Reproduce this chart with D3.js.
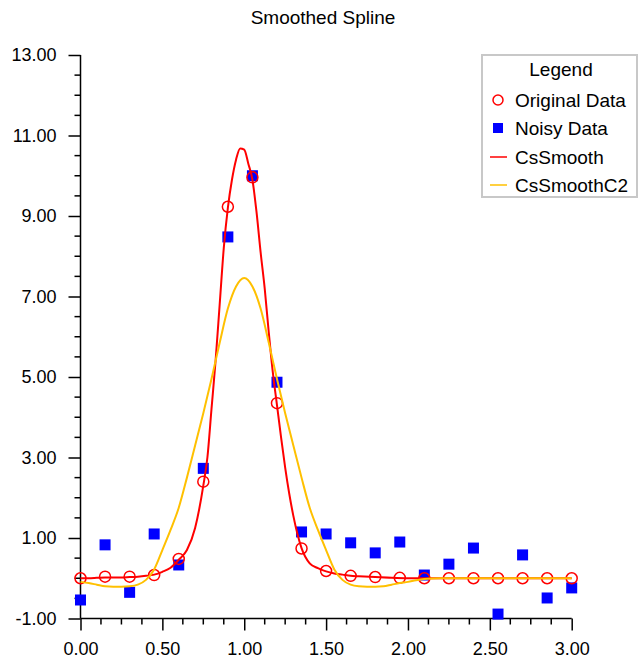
<!DOCTYPE html>
<html>
<head>
<meta charset="utf-8">
<script src="https://cdn.jsdelivr.net/npm/d3@7"></script>
<style>
body { margin: 0; background: #fff; }
text { font-family: "Liberation Sans", Arial, sans-serif; }
</style>
</head>
<body>
<svg id="chart" width="643" height="667"></svg>
<script>
const dataX = [0, 0.15, 0.30, 0.45, 0.60, 0.75, 0.90, 1.05, 1.20, 1.35, 1.50, 1.65, 1.80, 1.95, 2.10, 2.25, 2.40, 2.55, 2.70, 2.85, 3.00];
const originalY = [0.00, 0.04, 0.04, 0.08, 0.48, 2.40, 9.23, 9.96, 4.35, 0.74, 0.18, 0.06, 0.03, 0.01, 0.00, 0.00, 0.00, 0.00, 0.00, 0.00, 0.00];
const noisyY = [-0.54, 0.83, -0.35, 1.10, 0.33, 2.73, 8.48, 10.00, 4.87, 1.15, 1.10, 0.88, 0.63, 0.90, 0.08, 0.35, 0.75, -0.89, 0.58, -0.49, -0.24];

const smoothX = [0, 0.05, 0.1, 0.15, 0.2, 0.25, 0.3, 0.35, 0.4, 0.45, 0.5, 0.55, 0.6, 0.65, 0.7, 0.75, 0.775, 0.8, 0.825, 0.85, 0.875, 0.9, 0.925, 0.95, 0.975, 1.0, 1.025, 1.05, 1.075, 1.1, 1.125, 1.15, 1.175, 1.2, 1.225, 1.25, 1.275, 1.3, 1.325, 1.35, 1.4, 1.45, 1.5, 1.55, 1.6, 1.65, 1.7, 1.8, 1.9, 2.0, 2.1, 2.2, 2.4, 2.6, 2.8, 3.0];
const csSmoothY = [0.00, 0.00, 0.01, 0.02, 0.02, 0.02, 0.03, 0.04, 0.06, 0.09, 0.16, 0.26, 0.46, 0.70, 1.25, 2.30, 3.00, 4.20, 5.40, 6.80, 8.20, 9.20, 9.90, 10.40, 10.68, 10.65, 10.30, 9.90, 9.10, 8.10, 7.20, 6.10, 5.10, 4.30, 3.50, 2.75, 2.10, 1.55, 1.10, 0.75, 0.37, 0.25, 0.17, 0.12, 0.09, 0.06, 0.05, 0.03, 0.01, 0.00, 0.00, 0.00, 0.00, 0.00, 0.00, 0.00];

const c2X = [0, 0.05, 0.1, 0.15, 0.2, 0.25, 0.3, 0.35, 0.4, 0.45, 0.5, 0.55, 0.6, 0.65, 0.7, 0.75, 0.8, 0.85, 0.9, 0.95, 1.0, 1.05, 1.1, 1.15, 1.2, 1.25, 1.3, 1.35, 1.4, 1.45, 1.5, 1.55, 1.6, 1.65, 1.7, 1.75, 1.8, 1.85, 1.9, 1.95, 2.0, 2.05, 2.1, 2.2, 2.4, 2.6, 2.8, 3.0];
const csSmoothC2Y = [-0.09, -0.12, -0.16, -0.20, -0.21, -0.21, -0.20, -0.16, -0.04, 0.22, 0.70, 1.20, 1.75, 2.50, 3.30, 4.10, 4.95, 5.85, 6.70, 7.25, 7.46, 7.25, 6.70, 5.85, 4.95, 4.10, 3.30, 2.50, 1.75, 1.20, 0.70, 0.22, -0.04, -0.16, -0.20, -0.21, -0.21, -0.20, -0.16, -0.12, -0.09, -0.05, -0.02, 0.00, 0.00, 0.00, 0.00, 0.00];

const yTickValues = [-1, 1, 3, 5, 7, 9, 11, 13];
const xTickValues = [0, 0.5, 1.0, 1.5, 2.0, 2.5, 3.0];
const legendLabels = ["Original Data", "Noisy Data", "CsSmooth", "CsSmoothC2"];

const svg = d3.select("#chart");
const x = d3.scaleLinear().domain([0, 3]).range([80.5, 571.7]);
const y = d3.scaleLinear().domain([-1, 13]).range([618.5, 55]);

// title
svg.append("text").attr("x", 323).attr("y", 24).attr("text-anchor", "middle")
  .attr("font-size", 19).attr("fill", "#000").text("Smoothed Spline");

// axes
const fmt = v => d3.format(".2f")(v).replace("\u2212", "-");
const yMinor = d3.range(-1, 13.001, 0.5).filter(v => Math.abs((v + 1) % 2) > 0.01);
const xMinor = d3.range(0, 3.001, 0.125).filter(v => Math.abs((v * 2) - Math.round(v * 2)) > 0.01);

const yAxis = svg.append("g").attr("transform", `translate(${x(0)},0)`)
  .call(d3.axisLeft(y).tickValues(yTickValues).tickFormat(fmt).tickSize(12).tickPadding(12));
const xAxis = svg.append("g").attr("transform", `translate(0,${y(-1)})`)
  .call(d3.axisBottom(x).tickValues(xTickValues).tickFormat(fmt).tickSize(12).tickPadding(12));
[yAxis, xAxis].forEach(g => {
  g.select(".domain").attr("stroke", "#000").attr("stroke-width", 1.5);
  g.selectAll(".tick line").attr("stroke", "#000").attr("stroke-width", 1.5);
  g.selectAll(".tick text").attr("font-size", 18).attr("fill", "#000")
    .attr("font-family", "'Liberation Sans', Arial, sans-serif");
});
yAxis.select(".domain").attr("d", `M0,${y(-1)}V${y(13)}`);
xAxis.select(".domain").attr("d", `M${x(0)},0H${x(3)}`);

svg.append("g").selectAll("line").data(yMinor).join("line")
  .attr("x1", x(0) - 6).attr("x2", x(0)).attr("y1", d => y(d)).attr("y2", d => y(d))
  .attr("stroke", "#000").attr("stroke-width", 1.5);
svg.append("g").selectAll("line").data(xMinor).join("line")
  .attr("x1", d => x(d)).attr("x2", d => x(d)).attr("y1", y(-1)).attr("y2", y(-1) + 6)
  .attr("stroke", "#000").attr("stroke-width", 1.5);

// noisy squares
const sq = 11;
svg.append("g").selectAll("rect").data(dataX.map((d, i) => [d, noisyY[i]])).join("rect")
  .attr("x", d => x(d[0]) - sq / 2).attr("y", d => y(d[1]) - sq / 2)
  .attr("width", sq).attr("height", sq).attr("fill", "#0000ff");

// original circles
svg.append("g").selectAll("circle").data(dataX.map((d, i) => [d, originalY[i]])).join("circle")
  .attr("cx", d => x(d[0])).attr("cy", d => y(d[1])).attr("r", 5.5)
  .attr("fill", "none").attr("stroke", "#ff0000").attr("stroke-width", 1.5);

// lines
const line = d3.line().x(d => x(d[0])).y(d => y(d[1])).curve(d3.curveMonotoneX);
svg.append("path").datum(smoothX.map((d, i) => [d, csSmoothY[i]]))
  .attr("d", line).attr("fill", "none").attr("stroke", "#ff0000").attr("stroke-width", 2);
svg.append("path").datum(c2X.map((d, i) => [d, csSmoothC2Y[i]]))
  .attr("d", line).attr("fill", "none").attr("stroke", "#ffc000").attr("stroke-width", 2);

// legend
const lg = svg.append("g");
lg.append("rect").attr("x", 482).attr("y", 55).attr("width", 155).attr("height", 142)
  .attr("fill", "#fff").attr("stroke", "#c8c8c8").attr("stroke-width", 2);
lg.append("text").attr("x", 561).attr("y", 76).attr("text-anchor", "middle")
  .attr("font-size", 19).text("Legend");
const rowsY = [100, 128, 157, 185];
legendLabels.forEach((lab, i) => {
  const cy = rowsY[i];
  if (i === 0) {
    lg.append("circle").attr("cx", 498).attr("cy", cy).attr("r", 5)
      .attr("fill", "none").attr("stroke", "#ff0000").attr("stroke-width", 1.5);
  } else if (i === 1) {
    lg.append("rect").attr("x", 493).attr("y", cy - 5).attr("width", 10).attr("height", 10).attr("fill", "#0000ff");
  } else {
    lg.append("line").attr("x1", 490).attr("x2", 507).attr("y1", cy).attr("y2", cy)
      .attr("stroke", i === 2 ? "#ff0000" : "#ffc000").attr("stroke-width", 1.5);
  }
  lg.append("text").attr("x", 515).attr("y", cy).attr("dy", "0.35em")
    .attr("font-size", 19).text(lab);
});
</script>
</body>
</html>
